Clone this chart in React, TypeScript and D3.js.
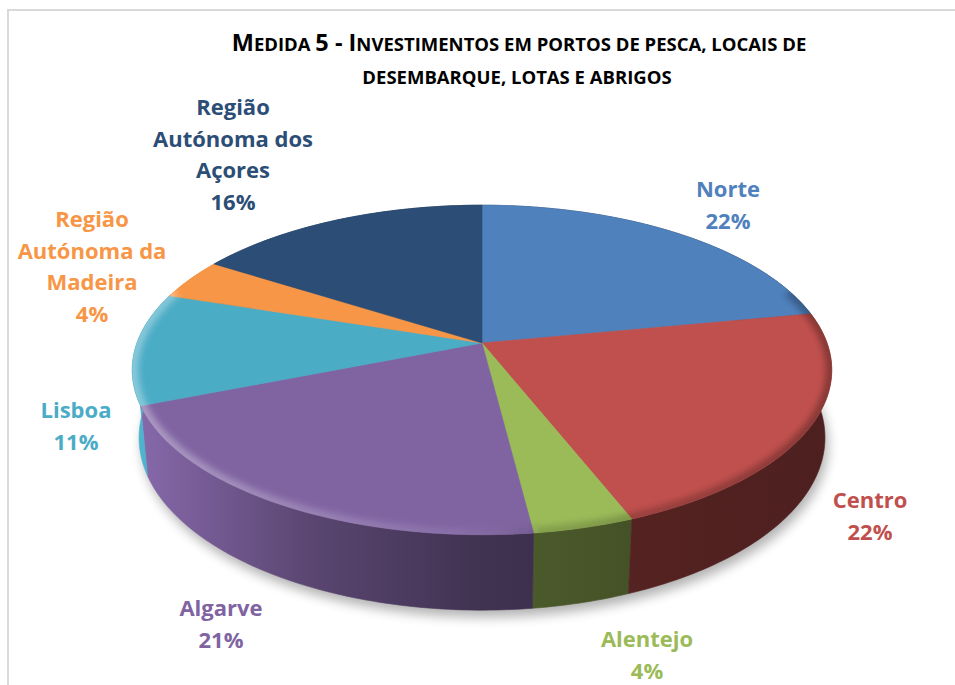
import React from "react";
import * as d3 from "d3";

// data (percent of investment per region)
const regions = [
  "Norte",
  "Centro",
  "Alentejo",
  "Algarve",
  "Lisboa",
  "Região Autónoma da Madeira",
  "Região Autónoma dos Açores",
];
const shares = [22, 22, 4, 21, 11, 4, 16];
const labelLines = [
  ["Norte"],
  ["Centro"],
  ["Alentejo"],
  ["Algarve"],
  ["Lisboa"],
  ["Região", "Autónoma da", "Madeira"],
  ["Região", "Autónoma dos", "Açores"],
];

const colors = ["#4F81BD", "#C0504D", "#9BBB59", "#8064A2", "#4BACC6", "#F79646", "#2C4D75"];

// label anchors: centre x, first baseline y
const labelAnchor: [number, number][] = [
  [728, 197],
  [870, 508],
  [647, 647],
  [221, 616],
  [76, 418],
  [92, 227],
  [233, 115],
];

const width = 955;
const height = 685;

// 3d pie geometry
const cx = 482;
const cy = 343;
const R = 345;
const focal = 1866;
const tilt = (27.7 * Math.PI) / 180;
const depth = 77;
const sinA = Math.sin(tilt);
const cosA = Math.cos(tilt);

const proj = (theta: number, r: number, H: number): [number, number] => {
  const X = r * Math.sin(theta);
  const D = -r * Math.cos(theta);
  const yc = D * sinA - H * cosA;
  const z = D * cosA + H * sinA;
  const k = focal / (focal - z);
  return [cx + X * k, cy + yc * k];
};

const arcPts = (a0: number, a1: number, H: number) => {
  const n = Math.max(2, Math.ceil(Math.abs(a1 - a0) / (Math.PI / 180)));
  return d3.range(n + 1).map((i) => proj(a0 + ((a1 - a0) * i) / n, R, H));
};

const line = d3.line();

const App = () => {
  const arcs = d3.pie<number>().sort(null).value((d) => d)(shares);

  const topPaths = arcs.map((a) => {
    const pts: [number, number][] = [[cx, cy], ...arcPts(a.startAngle, a.endAngle, 0)];
    return line(pts) + "Z";
  });

  const sides = arcs
    .map((a, i) => {
      const top = arcPts(a.startAngle, a.endAngle, 0);
      const bot = arcPts(a.endAngle, a.startAngle, -depth);
      const mid = (a.startAngle + a.endAngle) / 2;
      return { i, d: line([...top, ...bot]) + "Z", order: -Math.cos(mid) };
    })
    .sort((p, q) => q.order - p.order);

  const fullTop = line(arcPts(0, 2 * Math.PI, 0)) + "Z";
  const fullBottom = line(arcPts(0, 2 * Math.PI, -depth)) + "Z";
  const frontRim = line(arcPts((70 * Math.PI) / 180, (290 * Math.PI) / 180, 0));

  const font = "'Open Sans', 'DejaVu Sans', sans-serif";
  const big = 23.5;
  const small = 18.5;

  return (
    <div style={{ position: "fixed", left: 0, top: 0 }}>
      <svg width={width} height={height} style={{ display: "block", background: "#fff" }}>
        <defs>
          <filter id="blur6" x="-20%" y="-20%" width="140%" height="140%">
            <feGaussianBlur stdDeviation={6} />
          </filter>
          <filter id="blur3" x="-20%" y="-20%" width="140%" height="140%">
            <feGaussianBlur stdDeviation={3} />
          </filter>
          <clipPath id="topClip">
            <path d={fullTop} />
          </clipPath>
          <linearGradient id="rimGrad" gradientUnits="userSpaceOnUse" x1={cx - R} x2={cx + R} y1={0} y2={0}>
            <stop offset={0} stopColor="#fff" stopOpacity={0.35} />
            <stop offset={0.45} stopColor="#fff" stopOpacity={0.08} />
            <stop offset={0.6} stopColor="#000" stopOpacity={0.15} />
            <stop offset={1} stopColor="#000" stopOpacity={0.3} />
          </linearGradient>
          {colors.map((c, i) => (
            <linearGradient
              key={i}
              id={`side${i}`}
              gradientUnits="userSpaceOnUse"
              x1={cx - R}
              x2={cx + R}
              y1={0}
              y2={0}
            >
              <stop offset={0} stopColor={d3.rgb(c).brighter(0.15).formatHex()} />
              <stop offset={0.25} stopColor={d3.interpolateRgb(c, "#000")(0.3)} />
              <stop offset={0.5} stopColor={d3.interpolateRgb(c, "#000")(0.5)} />
              <stop offset={0.75} stopColor={d3.interpolateRgb(c, "#000")(0.57)} />
              <stop offset={1} stopColor={d3.interpolateRgb(c, "#000")(0.6)} />
            </linearGradient>
          ))}
        </defs>

        {/* chart frame */}
        <path d={`M8,${height + 2}V10H${width + 2}`} fill="none" stroke="#D9D9D9" strokeWidth={2} />

        {/* title */}
        <text x={519} y={51} textAnchor="middle" fontFamily={font} fontWeight="bold" fill="#000">
          <tspan fontSize={big}>M</tspan>
          <tspan fontSize={small}>EDIDA </tspan>
          <tspan fontSize={big}>5 - I</tspan>
          <tspan fontSize={small}>NVESTIMENTOS EM PORTOS DE PESCA, LOCAIS DE</tspan>
        </text>
        <text x={517} y={84} textAnchor="middle" fontFamily={font} fontWeight="bold" fill="#000" fontSize={small}>
          DESEMBARQUE, LOTAS E ABRIGOS
        </text>

        {/* shadow */}
        <path d={fullBottom} transform="translate(3,7)" fill="#000" opacity={0.3} filter="url(#blur6)" />

        {/* side walls */}
        {sides.map((s) => (
          <path key={`s${s.i}`} d={s.d} fill={`url(#side${s.i})`} stroke={`url(#side${s.i})`} strokeWidth={0.6} />
        ))}

        {/* top faces */}
        {topPaths.map((d, i) => (
          <path key={`t${i}`} d={d} fill={colors[i]} stroke={colors[i]} strokeWidth={0.6} />
        ))}

        {/* bevel on the rim */}
        <g clipPath="url(#topClip)">
          <path d={frontRim ?? ""} fill="none" stroke="url(#rimGrad)" strokeWidth={12} filter="url(#blur3)" />
        </g>

        {/* labels */}
        {arcs.map((a, i) => {
          const [lx, ly] = labelAnchor[i];
          const lines = [...labelLines[i], `${shares[i]}%`];
          return (
            <text key={`l${i}`} textAnchor="middle" fontFamily={font} fontWeight="bold" fontSize={22} fill={colors[i]}>
              {lines.map((t, j) => (
                <tspan key={j} x={lx} y={ly + j * 31.7}>
                  {t}
                </tspan>
              ))}
              <title>{regions[i]}</title>
            </text>
          );
        })}
      </svg>
    </div>
  );
};

export default App;
